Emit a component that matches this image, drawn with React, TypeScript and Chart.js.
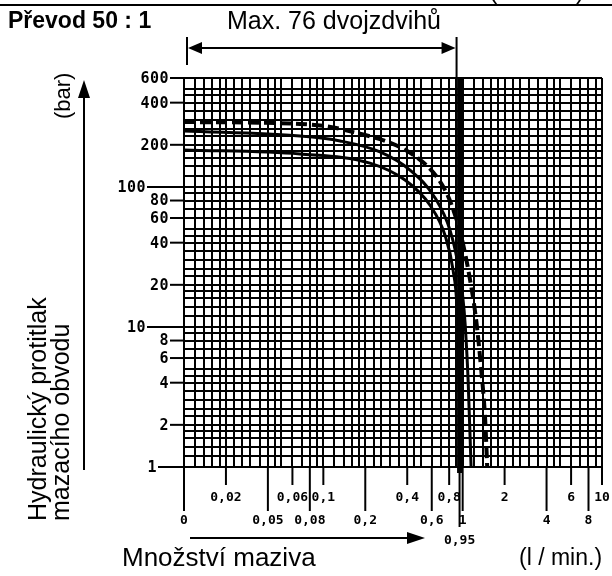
import React, { useEffect, useRef } from "react";
import { Chart, registerables } from "chart.js";

Chart.register(...registerables);

// ---- axis ranges ----
const flowMin = 0.01;
const flowMax = 10;
const pressureMin = 1;
const pressureMax = 600;

// grid subdivisions inside each decade (log paper)
const gridMantissas = [1, 1.2, 1.4, 1.6, 1.8, 2, 2.3, 2.6, 3, 3.5, 4, 4.5, 5, 6, 7, 8, 9];

// ---- tick labels ----
const yTickValues = [600, 400, 200, 100, 80, 60, 40, 20, 10, 8, 6, 4, 2, 1];
const yTickLabels = ["600", "400", "200", "100", "80", "60", "40", "20", "10", "8", "6", "4", "2", "1"];

const xTickValues = [0.01, 0.02, 0.04, 0.06, 0.08, 0.1, 0.2, 0.4, 0.6, 0.8, 0.95, 1, 2, 4, 6, 8, 10];
const xTickLabels = ["0", "0,02", "0,05", "0,06", "0,08", "0,1", "0,2", "0,4", "0,6", "0,8", "0,95", "1", "2", "4", "6", "8", "10"];
const xTickRows = [2, 1, 2, 1, 2, 1, 2, 1, 2, 1, 3, 2, 1, 2, 1, 2, 1];

// max. 76 double strokes limit (l/min)
const maxStrokeFlow = 0.95;

// ---- curves (flow l/min, pressure bar) ----
const dashedFlow = [0.01, 0.068, 0.143, 0.495, 0.748, 0.882, 0.99, 1.13, 1.25, 1.36, 1.45, 1.5];
const dashedPressure = [291, 282, 255, 156, 95, 63, 42, 21.7, 11.2, 4.9, 2.2, 1];

const upperFlow = [0.01, 0.068, 0.132, 0.255, 0.419, 0.634, 0.812, 0.927, 1.024, 1.094, 1.149];
const upperPressure = [251, 231, 213, 178, 132, 83.5, 49, 27.7, 13.2, 4.2, 1];

const lowerFlow = [0.01, 0.068, 0.216, 0.386, 0.583, 0.748, 0.853, 0.912, 0.942, 0.974];
const lowerPressure = [184, 172, 148, 112, 74, 45, 25.5, 13.2, 4.2, 1];

function decadeGrid(min: number, max: number): number[] {
  const out: number[] = [];
  for (let e = Math.floor(Math.log10(min)); e <= Math.ceil(Math.log10(max)); e++) {
    for (const m of gridMantissas) {
      const v = +(m * Math.pow(10, e)).toPrecision(6);
      if (v >= min - 1e-9 && v <= max + 1e-9) out.push(v);
    }
  }
  if (out[out.length - 1] < max) out.push(max);
  return out;
}

const xGrid = decadeGrid(flowMin, flowMax);
const yGrid = decadeGrid(pressureMin, pressureMax);

function pts(xs: number[], ys: number[]) {
  return xs.map((x, i) => ({ x, y: ys[i] }));
}

function arrowHead(ctx: CanvasRenderingContext2D, tx: number, ty: number, dir: "left" | "right" | "up", len: number, half: number) {
  ctx.beginPath();
  ctx.moveTo(tx, ty);
  if (dir === "right") {
    ctx.lineTo(tx - len, ty - half);
    ctx.lineTo(tx - len, ty + half);
  } else if (dir === "left") {
    ctx.lineTo(tx + len, ty - half);
    ctx.lineTo(tx + len, ty + half);
  } else {
    ctx.lineTo(tx - half, ty + len);
    ctx.lineTo(tx + half, ty + len);
  }
  ctx.closePath();
  ctx.fill();
}

const overlayPlugin = {
  id: "overlay",
  afterDraw(chart: any) {
    const { ctx, chartArea, scales } = chart;
    const xs = scales.x;
    const ys = scales.y;
    ctx.save();
    ctx.fillStyle = "#000";
    ctx.strokeStyle = "#000";

    // thick limit line
    const xm = xs.getPixelForValue(maxStrokeFlow);
    ctx.lineWidth = 5;
    ctx.beginPath();
    ctx.moveTo(xm, chartArea.top);
    ctx.lineTo(xm, chartArea.bottom + 6);
    ctx.stroke();

    // y ticks + labels
    ctx.lineWidth = 2;
    ctx.font = "bold 15px 'DejaVu Sans Mono'";
    (ctx as any).letterSpacing = "0.5px";
    ctx.textAlign = "right";
    ctx.textBaseline = "middle";
    yTickValues.forEach((v, i) => {
      const py = ys.getPixelForValue(v);
      const len = v === 100 || v === 10 ? 37 : v === 1 ? 26 : 14;
      const x0 = chartArea.left - len;
      ctx.beginPath();
      ctx.moveTo(x0, py);
      ctx.lineTo(chartArea.left, py);
      ctx.stroke();
      ctx.fillText(yTickLabels[i], x0 - 1, py + 1);
    });

    // x ticks + labels
    (ctx as any).letterSpacing = "0px";
    ctx.font = "bold 13px 'DejaVu Sans Mono'";
    ctx.textAlign = "center";
    const rowTickEnd = [0, 18, 44, 60];
    const rowLabelY = [0, 31, 54, 74];
    xTickValues.forEach((v, i) => {
      const px = xs.getPixelForValue(v);
      const r = xTickRows[i];
      ctx.lineWidth = 2;
      ctx.beginPath();
      ctx.moveTo(px, chartArea.bottom);
      ctx.lineTo(px, chartArea.bottom + rowTickEnd[r]);
      ctx.stroke();
      ctx.fillText(xTickLabels[i], px, chartArea.bottom + rowLabelY[r]);
    });

    // header arrow (range 0 .. max strokes)
    const ax0 = chartArea.left + 3;
    const ax1 = xm - 3;
    const ay = 48;
    ctx.lineWidth = 2;
    ctx.beginPath();
    ctx.moveTo(ax0, 37);
    ctx.lineTo(ax0, 65);
    ctx.moveTo(ax1, 37);
    ctx.lineTo(ax1, chartArea.top);
    ctx.moveTo(ax0 + 6, ay);
    ctx.lineTo(ax1 - 6, ay);
    ctx.stroke();
    arrowHead(ctx, ax0 + 1, ay, "left", 14, 6);
    arrowHead(ctx, ax1 - 1, ay, "right", 14, 6);

    // y-axis arrow
    ctx.beginPath();
    ctx.moveTo(84, 470);
    ctx.lineTo(84, 95);
    ctx.stroke();
    arrowHead(ctx, 84, 80, "up", 18, 6);

    // x-axis arrow
    ctx.beginPath();
    ctx.moveTo(190, 538);
    ctx.lineTo(410, 538);
    ctx.stroke();
    arrowHead(ctx, 425, 538, "right", 18, 6);

    // top rule
    ctx.lineWidth = 2;
    ctx.beginPath();
    ctx.moveTo(0, 5);
    ctx.lineTo(612, 5);
    ctx.stroke();

    ctx.restore();
  },
};

export default function App() {
  const canvasRef = useRef<HTMLCanvasElement | null>(null);

  useEffect(() => {
    if (!canvasRef.current) return;
    const dashedPts = pts(dashedFlow, dashedPressure);
    const chart = new Chart(canvasRef.current, {
      type: "line",
      data: {
        datasets: [
          {
            label: "dashed",
            data: dashedPts,
            borderColor: "#000",
            borderWidth: 4,
            borderDash: [11, 5],
            pointRadius: 0,
            cubicInterpolationMode: "monotone",
            fill: false,
          },
          {
            label: "dashed-hollow",
            data: dashedPts,
            borderColor: "#fff",
            borderWidth: 1.3,
            borderDash: [8, 8],
            borderDashOffset: -1.5,
            pointRadius: 0,
            cubicInterpolationMode: "monotone",
            fill: false,
          },
          {
            label: "upper",
            data: pts(upperFlow, upperPressure),
            borderColor: "#000",
            borderWidth: 3,
            pointRadius: 0,
            cubicInterpolationMode: "monotone",
            fill: false,
          },
          {
            label: "lower",
            data: pts(lowerFlow, lowerPressure),
            borderColor: "#000",
            borderWidth: 3,
            pointRadius: 0,
            cubicInterpolationMode: "monotone",
            fill: false,
          },
        ],
      },
      options: {
        animation: false,
        responsive: false,
        maintainAspectRatio: false,
        layout: { padding: { left: 184, top: 78, right: 10, bottom: 109 } },
        plugins: { legend: { display: false }, tooltip: { enabled: false } },
        scales: {
          x: {
            type: "logarithmic",
            min: flowMin,
            max: flowMax,
            border: { display: false },
            grid: { color: "#000", lineWidth: 2, drawTicks: false },
            ticks: { display: false },
            afterBuildTicks: (scale: any) => {
              scale.ticks = xGrid.map((v) => ({ value: v }));
            },
          },
          y: {
            type: "logarithmic",
            min: pressureMin,
            max: pressureMax,
            border: { display: false },
            grid: { color: "#000", lineWidth: 2, drawTicks: false },
            ticks: { display: false },
            afterBuildTicks: (scale: any) => {
              scale.ticks = yGrid.map((v) => ({ value: v }));
            },
          },
        },
      },
      plugins: [overlayPlugin],
    });
    return () => chart.destroy();
  }, []);

  const font = "'Liberation Sans', Arial, sans-serif";
  return (
    <div
      style={{
        position: "fixed",
        left: 0,
        top: 0,
        width: 612,
        height: 576,
        overflow: "hidden",
        background: "#fff",
        fontFamily: font,
        color: "#000",
      }}
    >
      <canvas ref={canvasRef} width={612} height={576} style={{ position: "absolute", left: 0, top: 0 }} />
      <div style={{ position: "absolute", left: 489, top: -22, fontSize: 25, lineHeight: "25px" }}>(</div>
      <div style={{ position: "absolute", left: 576, top: -22, fontSize: 25, lineHeight: "25px" }}>)</div>
      <div style={{ position: "absolute", left: 8, top: 9, fontSize: 23, fontWeight: "bold", lineHeight: "23px", whiteSpace: "nowrap" }}>
        Převod 50 : 1
      </div>
      <div style={{ position: "absolute", left: 227, top: 8, fontSize: 25, lineHeight: "25px", whiteSpace: "nowrap" }}>
        Max. 76 dvojzdvihů
      </div>
      <div
        style={{
          position: "absolute",
          left: 26,
          top: 521,
          fontSize: 25,
          lineHeight: "23px",
          whiteSpace: "nowrap",
          transform: "rotate(-90deg)",
          transformOrigin: "left top",
        }}
      >
        Hydraulický protitlak
        <br />
        mazacího obvodu
      </div>
      <div
        style={{
          position: "absolute",
          left: 51,
          top: 119,
          fontSize: 22,
          lineHeight: "23px",
          whiteSpace: "nowrap",
          transform: "rotate(-90deg)",
          transformOrigin: "left top",
        }}
      >
        (bar)
      </div>
      <div style={{ position: "absolute", left: 122, top: 545, fontSize: 26, lineHeight: "24px", whiteSpace: "nowrap" }}>
        Množství maziva
      </div>
      <div style={{ position: "absolute", left: 519, top: 546, fontSize: 23, lineHeight: "23px", whiteSpace: "nowrap" }}>
        (l / min.)
      </div>
    </div>
  );
}
